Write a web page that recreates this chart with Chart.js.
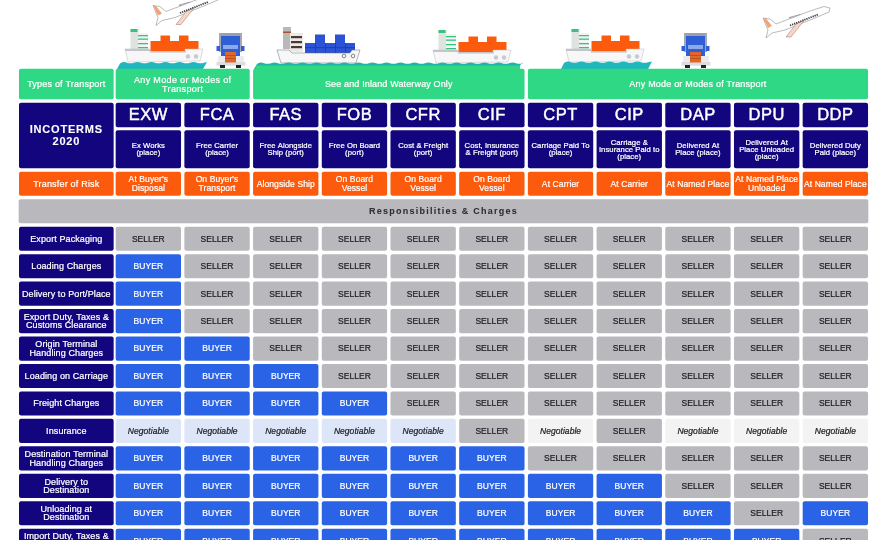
<!DOCTYPE html>
<html><head><meta charset="utf-8">
<script src="https://cdn.jsdelivr.net/npm/chart.js@4/dist/chart.umd.min.js"></script>
<style>html,body{margin:0;padding:0;background:#fff;overflow:hidden}canvas{display:block}</style>
</head><body><canvas id="c" width="880" height="540"></canvas>
<script>
// ---- content ----
const terms=['EXW','FCA','FAS','FOB','CFR','CIF','CPT','CIP','DAP','DPU','DDP'];
const termNames=['Ex Works\n(place)','Free Carrier\n(place)','Free Alongside\nShip (port)','Free On Board\n(port)','Cost & Freight\n(port)','Cost, Insurance\n& Freight (port)','Carriage Paid To\n(place)','Carriage &\nInsurance Paid to\n(place)','Delivered At\nPlace (place)','Delivered At\nPlace Unloaded\n(place)','Delivered Duty\nPaid (place)'];
const riskPoints=["At Buyer's\nDisposal","On Buyer's\nTransport",'Alongside Ship','On Board\nVessel','On Board\nVessel','On Board\nVessel','At Carrier','At Carrier','At Named Place','At Named Place\nUnloaded','At Named Place'];
const transportLabels=['Any Mode or Modes of\nTransport','See and Inland Waterway Only','Any Mode or Modes of Transport'];
const transportCentres=[0.5,3.5,8];
const transportSpans=[2,4,5];
const rowLabels=['Export Packaging','Loading Charges','Delivery to Port/Place','Export Duty, Taxes &\nCustoms Clearance','Origin Terminal\nHandling Charges','Loading on Carriage','Freight Charges','Insurance','Destination Terminal\nHandling Charges','Delivery to\nDestination','Unloading at\nDestination','Import Duty, Taxes &\nCustoms Clearance'];
// S seller, B buyer, N negotiable (buyer side), M negotiable (seller side)
const responsibility=[
'SSSSSSSSSSS',
'BSSSSSSSSSS',
'BSSSSSSSSSS',
'BSSSSSSSSSS',
'BBSSSSSSSSS',
'BBBSSSSSSSS',
'BBBBSSSSSSS',
'NNNNNSMSMMM',
'BBBBBBSSSSS',
'BBBBBBBBSSS',
'BBBBBBBBBSB',
'BBBBBBBBBBS'];
// ---- layout (grid units: column pitch / row pitch) ----
const P={colPitch:68.7,colW:64.7,leftW:94,fullW:849};
const bands={transport:[-6.184,-5.09],code:[-4.945,-4.07],name:[-3.944,-2.577],risk:[-2.432,-1.576],resp:[-1.43,-0.574]};
const leftCol=-1.194, halfRow=0.428;
const C={navy:'#13057D',green:'#2FD884',orange:'#FC5A0C',blue:'#2B63E6',gray:'#B9B9BD',neg1:'#DDE5F8',neg2:'#F3F3F4',dark:'#1d1d22',white:'#ffffff'};
const F="'Liberation Sans',Arial,sans-serif";
const ds=(points,width,color,font,textColor,spacing,lh,weight)=>({data:points,backgroundColor:color,barThickness:width,borderRadius:2,borderSkipped:false,borderWidth:0,grouped:false,txt:{font,color:textColor,spacing:spacing||0,lh,weight:weight||.22}});
const pts=(xs,band,texts)=>xs.map((x,i)=>({x,y:band,text:texts[i]}));
const cols=terms.map((_,i)=>i);
const datasets=[
 ds(pts(transportCentres.slice(0,1),bands.transport,transportLabels.slice(0,1)),P.colPitch*transportSpans[0]-4,C.green,`9px ${F}`,C.white,.35,9),
 ds(pts(transportCentres.slice(1,2),bands.transport,transportLabels.slice(1,2)),P.colPitch*transportSpans[1]-4,C.green,`9px ${F}`,C.white,.14,9),
 ds(pts(transportCentres.slice(2,3),bands.transport,transportLabels.slice(2,3)),P.colPitch*transportSpans[2]-4,C.green,`9px ${F}`,C.white,.2,9),
 ds([{x:leftCol,y:bands.transport,text:'Types of Transport'}],P.leftW,C.green,`9px ${F}`,C.white,.2,9),
 ds([{x:leftCol,y:[bands.code[0],bands.name[1]],text:'INCOTERMS\n2020'}],P.leftW,C.navy,`bold 11px ${F}`,C.white,.8,12.5,.1),
 ds([{x:leftCol,y:bands.risk,text:'Transfer of Risk'}],P.leftW,C.orange,`9px ${F}`,C.white,.2,9),
 ds(pts(cols,bands.code,terms),P.colW,C.navy,`16.5px ${F}`,C.white,.5,18,.45),
 ds(pts(cols,bands.name,termNames),P.colW,C.navy,`7.7px ${F}`,C.white,.05,7.2),
 ds(pts(cols,bands.risk,riskPoints),P.colW,C.orange,`8.5px ${F}`,C.white,.1,8.2),
 ds([{x:(leftCol*P.colPitch-P.leftW/2+10*P.colPitch+P.colW/2)/2/P.colPitch,y:bands.resp,text:'Responsibilities & Charges'}],P.fullW,C.gray,`bold 9px ${F}`,'#2c2c32',1.25,9,.05),
 ds(rowLabels.map((t,r)=>({x:leftCol,y:[r-halfRow,r+halfRow],text:t})),P.leftW,C.navy,`9px ${F}`,C.white,.1,8.4)
];
const cellStyle={S:['SELLER',C.gray,`8.5px ${F}`,C.dark],B:['BUYER',C.blue,`8.5px ${F}`,C.white],N:['Negotiable',C.neg1,`italic 8.5px ${F}`,C.dark],M:['Negotiable',C.neg2,`italic 8.5px ${F}`,C.dark]};
for(const k of Object.keys(cellStyle)){
 const [word,color,font,tc]=cellStyle[k], p=[];
 responsibility.forEach((row,r)=>[...row].forEach((v,c)=>{if(v===k)p.push({x:c,y:[r-halfRow,r+halfRow],text:word});}));
 datasets.push(ds(p,P.colW,color,font,tc,.05,9));
}
// ---- illustrations ----
function poly(g,pts,fill,stroke){g.beginPath();pts.forEach((p,i)=>i?g.lineTo(p[0],p[1]):g.moveTo(p[0],p[1]));g.closePath();if(fill){g.fillStyle=fill;g.fill();}if(stroke){g.strokeStyle=stroke;g.lineWidth=.5;g.stroke();}}
function rect(g,x,y,w,h,f){g.fillStyle=f;g.fillRect(x,y,w,h);}
function orangeShip(g,dx,dy){g.save();g.translate(dx,dy);
 rect(g,130.5,29,8,24,'#dfe3e0');rect(g,130.5,29,7,3,'#39c27f');
 rect(g,138,33,10,17,'#f2f3f2');[35,38.5,43,47].forEach(y=>rect(g,138,y,10,1.3,'#39c27f'));
 rect(g,150.5,41,48,11,C.orange);rect(g,160.5,35.5,9.5,6,C.orange);rect(g,179,35.5,9.5,6,C.orange);
 poly(g,[[125,49],[150,49],[150,52],[185,52],[185,49],[203,49],[200,61],[128,62]],'#f7f7f8','#b8bac0');
 rect(g,125,49,25,2,'#c3c5ca');rect(g,150,51,36,1.4,'#c3c5ca');
 g.fillStyle='#c6c9d3';[188,196].forEach(x=>{g.beginPath();g.arc(x,56.5,2.2,0,7);g.fill();});
 g.restore();}
function waves(g,x0,x1,top,col){g.fillStyle=col;g.beginPath();g.moveTo(x0,69);g.lineTo(x0+3,top+1.5);for(let x=x0+3;x<x1-12;x+=14){g.quadraticCurveTo(x+3.5,top-.8,x+7,top+.7);g.quadraticCurveTo(x+10.5,top+2,x+14,top+.7);}g.lineTo(x1,top);g.lineTo(x1-4,69);g.closePath();g.fill();}
function truck(g,dx){g.save();g.translate(dx,0);
 rect(g,219.5,33,22,3,'#9ca0ad');rect(g,219,33,2,19,'#a5a8b3');rect(g,240,33,2,19,'#a5a8b3');
 rect(g,221,36,19,20,'#2f5fd6');rect(g,223,45,15,4,'#8ea9ea');
 rect(g,216.5,46,3.5,5,'#2f5fd6');rect(g,241,46,3.5,5,'#2f5fd6');
 rect(g,218,56,26,9.5,'#ececee');rect(g,216.5,62,29,3.5,'#dcdde0');
 rect(g,225,52,11,10.5,'#e0662a');[55,58].forEach(y=>rect(g,225,y,11,.7,'#a84a1d'));
 rect(g,220,65,5,3,'#222');rect(g,236,65,5,3,'#222');
 g.restore();}
function plane(g,dx,dy){g.save();g.translate(dx,dy);
 poly(g,[[789,17.5],[800,14.5],[804,16.5],[795,20]],'#d9dbe0','#6a6a70');
 poly(g,[[763,18],[770,19],[776,24],[810,11],[824,6.5],[830,8],[829,12],[815,18],[785,30],[772,33],[766,38],[768,30]],'#ffffff','#77777c');
 poly(g,[[763,18],[766,18.5],[772,26],[768,28]],'#f2a37c');
 poly(g,[[796,24],[804,20.5],[791,37],[786,37]],'#f7d6c6','#9a7668');
 g.strokeStyle='#3a3f4a';g.lineWidth=1.8;g.setLineDash([1.3,.9]);g.beginPath();g.moveTo(790,25.5);g.lineTo(818,14.5);g.stroke();
 g.restore();}
const artwork={id:'art',beforeDatasetsDraw(ch){const g=ch.ctx;g.save();g.filter='blur(0.4px)';
 plane(g,-610,-12.5);plane(g,0,0);
 orangeShip(g,0,0);orangeShip(g,308,1);orangeShip(g,441,0);
 // blue ship
 rect(g,283,27,8,22,'#b9b9bb');rect(g,283,31.5,8,1.5,'#a9532c');rect(g,290,33,13,19,'#eceae6');[36,41,46].forEach(y=>rect(g,291,y,11,2.2,'#4a3a36'));
 rect(g,305,43,50,10,'#2b53d6');rect(g,315,34.5,10,9,'#2b53d6');rect(g,335,34.5,10,9,'#2b53d6');
 [315,325,335,345].forEach(x=>rect(g,x,43,.6,10,'#17329a'));rect(g,305,47.5,50,.6,'#17329a');
 poly(g,[[277,50],[289,50],[292,53],[350,53],[352,50],[360,50],[356,63],[281,63]],'#f7f7f8','#6a6d78');
 g.strokeStyle='#555';g.lineWidth=.7;[344,353].forEach(x=>{g.beginPath();g.arc(x,56,1.8,0,7);g.stroke();});
 truck(g,0);truck(g,465);
 waves(g,117,207,62,'#22b6bd');waves(g,561,652,61.5,'#22b6bd');
 waves(g,254,522,62.5,'#1fb6a6');
 g.fillStyle=C.green;g.fillRect(256,65.5,264,3.5);
 g.restore();}};
// ---- cell text ----
const cellText={id:'cellText',afterDatasetsDraw(ch){const g=ch.ctx;g.save();g.textAlign='center';g.textBaseline='middle';g.lineJoin='round';g.filter='blur(0.25px)';
 ch.data.datasets.forEach((d,di)=>{const m=ch.getDatasetMeta(di);g.font=d.txt.font;g.fillStyle=d.txt.color;g.strokeStyle=d.txt.color;g.lineWidth=d.txt.weight;g.letterSpacing=d.txt.spacing+'px';
  m.data.forEach((el,i)=>{const c=el.getCenterPoint();const lines=d.data[i].text.split('\n');
   lines.forEach((t,k)=>{const y=c.y+(k-(lines.length-1)/2)*d.txt.lh+.5;g.fillText(t,c.x,y);g.strokeText(t,c.x,y);});});});
 g.restore();}};
new Chart(document.getElementById('c'),{type:'bar',data:{datasets},plugins:[artwork,cellText],options:{
 responsive:false,animation:false,devicePixelRatio:1,layout:{padding:0},
 plugins:{legend:{display:false},tooltip:{enabled:false},title:{display:false}},
 scales:{x:{type:'linear',display:false,offset:false,min:-2.1594,max:10.6499},
         y:{type:'linear',display:false,reverse:true,min:-8.698,max:10.974}}}});
</script></body></html>
